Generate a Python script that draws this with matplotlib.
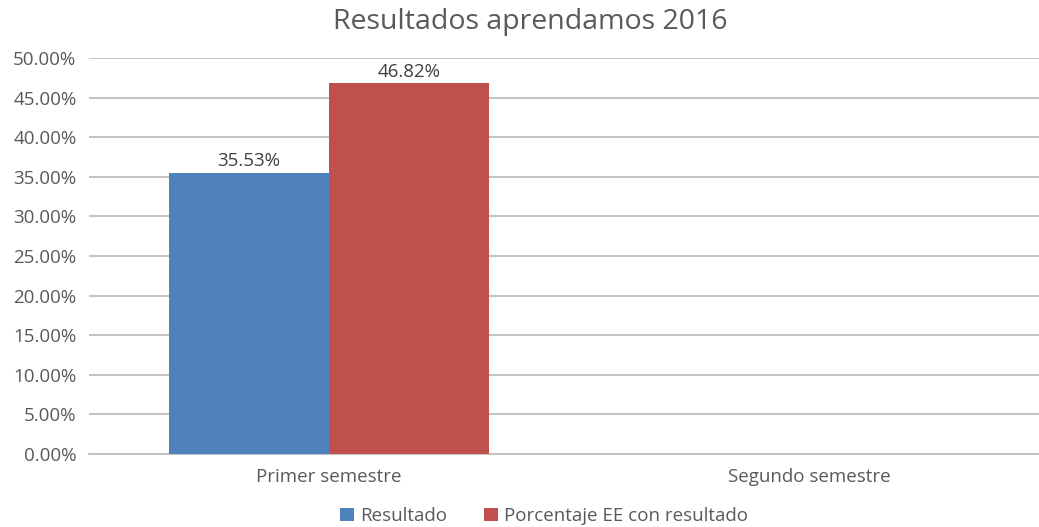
import matplotlib
matplotlib.use("Agg")
import matplotlib.pyplot as plt
import numpy as np
from matplotlib.ticker import FuncFormatter, MultipleLocator

categories = ["Primer semestre", "Segundo semestre"]
resultado = [35.53, None]
porcentaje_ee = [46.82, None]
series_names = ["Resultado", "Porcentaje EE con resultado"]
colors = ["#4F81BD", "#C0504D"]

plt.rcParams["font.family"] = ["Open Sans", "DejaVu Sans"]
text_color = "#595959"
fs = 13.5

W, H = 1039, 527
fig = plt.figure(figsize=(W / 100, H / 100), dpi=100)
# plot area in pixels: x 89..1049, y 58..454
ax = fig.add_axes([89 / W, 1 - 454 / H, 960 / W, 396 / H])

x = np.arange(len(categories))
bw = 1 / 3
for i, (vals, name, col) in enumerate(zip([resultado, porcentaje_ee], series_names, colors)):
    xs = [xi + (i - 0.5) * bw for xi, v in zip(x, vals) if v is not None]
    vs = [v for v in vals if v is not None]
    bars = ax.bar(xs, vs, width=bw, color=col, label=name, zorder=3)
    for b, v in zip(bars, vs):
        ax.text(b.get_x() + b.get_width() / 2, v + 0.3, f"{v:.2f}%",
                ha="center", va="bottom", fontsize=fs, color="#404040", zorder=4)

ax.set_xlim(-0.5, 1.5)
ax.set_ylim(0, 50)
ax.yaxis.set_major_locator(MultipleLocator(5))
ax.yaxis.set_major_formatter(FuncFormatter(lambda v, p: f"{v:.2f}%"))
ax.grid(axis="y", color="#BFBFBF", linewidth=1.3, zorder=0)
ax.set_axisbelow(True)
for s in ["top", "right", "left"]:
    ax.spines[s].set_visible(False)
ax.spines["bottom"].set_color("#BFBFBF")
ax.spines["bottom"].set_linewidth(1.3)
ax.set_xticks(x)
ax.set_xticklabels(categories)
ax.tick_params(axis="both", length=0, colors=text_color, labelsize=fs)
ax.tick_params(axis="x", pad=10)
ax.tick_params(axis="y", pad=9)

fig.text(530 / W, 1 - 22 / H, "Resultados aprendamos 2016", ha="center", va="center",
         fontsize=20.5, color=text_color)

handles, labels = ax.get_legend_handles_labels()
fig.legend(handles, labels, loc="center", bbox_to_anchor=(544 / W, 1 - 516 / H),
           ncol=2, frameon=False, fontsize=fs, handlelength=0.75, handleheight=0.75,
           handletextpad=0.3, columnspacing=2.0, labelcolor=text_color)

fig.savefig("out.png", dpi=100)
